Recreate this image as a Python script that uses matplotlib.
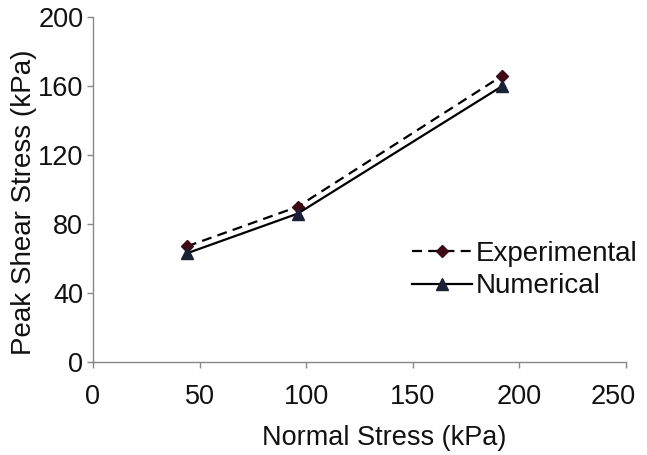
import matplotlib
matplotlib.use("Agg")
import matplotlib.pyplot as plt
from matplotlib.transforms import ScaledTranslation

normal_stress = [44, 96, 192]
experimental = [67, 90, 166]
numerical = [63, 86, 160]
x_ticks = [0, 50, 100, 150, 200, 250]
y_ticks = [0, 40, 80, 120, 160, 200]

plt.rcParams['font.family'] = ['Liberation Sans', 'DejaVu Sans']
tick_fs = 19.5
xlabel_fs = 19.5
ylabel_fs = 20
legend_fs = 20

fig = plt.figure(figsize=(6.47, 4.55), dpi=100)
ax = fig.add_axes([93/647, 1-362/455, 533/647, 345/455])

ax.plot(normal_stress, experimental, linestyle=(0, (4.5, 2.8)), color='black', lw=1.6,
        marker='D', markersize=6, markerfacecolor='#3d0a16', markeredgecolor='#3d0a16',
        label='Experimental')
ax.plot(normal_stress, numerical, linestyle='-', color='black', lw=1.6,
        marker='^', markersize=8.5, markerfacecolor='#1a2035', markeredgecolor='#1a2035',
        label='Numerical')

ax.set_xlim(0, 250)
ax.set_ylim(0, 200)
ax.set_xticks(x_ticks)
ax.set_yticks(y_ticks)
ax.tick_params(axis='both', direction='out', length=4, width=1, color='#888888',
               labelsize=tick_fs, labelcolor='#111111')
ax.tick_params(axis='x', pad=12)
ax.tick_params(axis='y', pad=3)
for s in ['top', 'right']:
    ax.spines[s].set_visible(False)
for s in ['left', 'bottom']:
    ax.spines[s].set_color('#888888')
    ax.spines[s].set_linewidth(1)

# shift the last x tick label left so it stays inside the figure (as in the reference)
fig.canvas.draw()
last = ax.get_xticklabels()[-1]
last.set_transform(last.get_transform() + ScaledTranslation(-9/72, 0, fig.dpi_scale_trans))

ax.set_xlabel('Normal Stress (kPa)', fontsize=xlabel_fs, color='#111111')
ax.set_ylabel('Peak Shear Stress (kPa)', fontsize=ylabel_fs, color='#111111')
ax.xaxis.set_label_coords(0.546, -0.183)
ax.yaxis.set_label_coords(-0.105, 0.464)

leg = ax.legend(loc='upper left', bbox_to_anchor=(412/647, 1-241/455),
                bbox_transform=fig.transFigure, frameon=False, fontsize=legend_fs,
                borderpad=0, borderaxespad=0, handlelength=2.15,
                handletextpad=0.15, labelspacing=0.23)
for t in leg.get_texts():
    t.set_color('#111111')

fig.savefig('out.png', dpi=100)
